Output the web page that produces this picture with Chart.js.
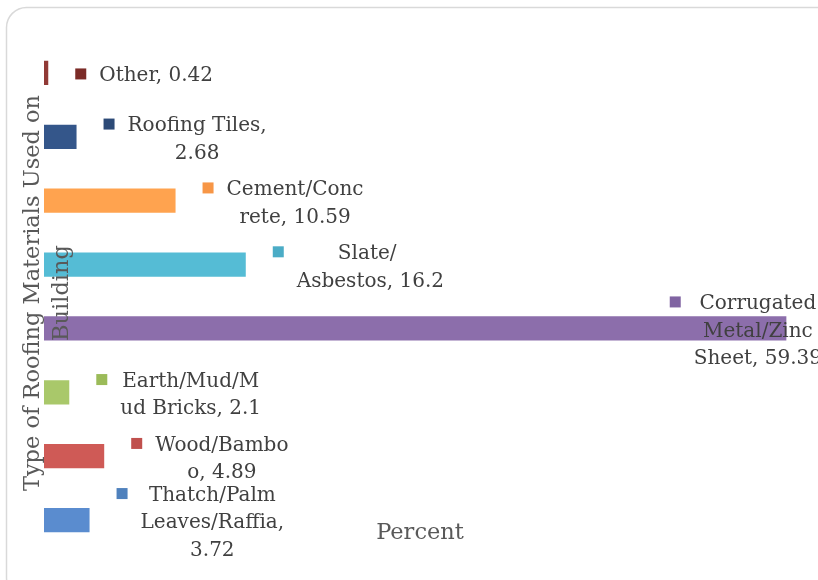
<!DOCTYPE html>
<html>
<head>
<meta charset="utf-8">
<title>Type of Roofing Materials Used on Building</title>
<script src="https://cdn.jsdelivr.net/npm/chart.js@4/dist/chart.umd.min.js"></script>
<style>
  html, body { margin: 0; padding: 0; background: #ffffff; }
  #wrap { width: 818px; height: 580px; }
</style>
</head>
<body>
<div id="wrap"><canvas id="chart" width="818" height="580"></canvas></div>
<script>
// Roofing material shares (percent), listed top to bottom
const categories = [
  'Other',
  'Roofing Tiles',
  'Cement/Concrete',
  'Slate/ Asbestos',
  'Corrugated Metal/Zinc Sheet',
  'Earth/Mud/Mud Bricks',
  'Wood/Bamboo',
  'Thatch/Palm Leaves/Raffia'
];
const values = [0.42, 2.68, 10.59, 16.2, 59.39, 2.1, 4.89, 3.72];

// character offsets where each "name, value" data label wraps
const labelBreaks = [[], [14], [11], [7], [10, 21], [11], [10], [11, 26]];

const barColors    = ['#913a36', '#34568a', '#ffa34f', '#55bcd5', '#8c6eab', '#a9c86a', '#cf5a56', '#5a8ccf'];
const markerColors = ['#7b2b27', '#2c4a77', '#f79646', '#4bacc6', '#8064a2', '#9bbb59', '#c0504d', '#4f81bd'];

const axisTitleY = ['Type of Roofing Materials Used on', 'Building'];
const axisTitleX = 'Percent';

const FONT = '"DejaVu Serif", "Liberation Serif", serif';

function labelLines(i) {
  const text = categories[i] + ', ' + values[i];
  const cuts = [0, ...labelBreaks[i], text.length];
  const lines = [];
  for (let k = 0; k < cuts.length - 1; k++) {
    lines.push(text.slice(cuts[k], cuts[k + 1]).replace(/^\s+/, ''));
  }
  return lines;
}

// white card with a soft rounded outline
const cardPlugin = {
  id: 'card',
  beforeDraw(chart) {
    const ctx = chart.ctx;
    ctx.save();
    ctx.fillStyle = '#ffffff';
    ctx.fillRect(0, 0, chart.width, chart.height);
    ctx.beginPath();
    ctx.roundRect(6.5, 7.5, 830, 590, 20);
    ctx.strokeStyle = '#d9d9d9';
    ctx.lineWidth = 1.5;
    ctx.stroke();
    ctx.restore();
  }
};

// data labels: colour key + wrapped "name, value" text beside each bar
const labelPlugin = {
  id: 'barLabels',
  afterDatasetsDraw(chart) {
    const ctx = chart.ctx;
    const meta = chart.getDatasetMeta(0);
    const lineH = 27.5;
    ctx.save();
    ctx.font = '20px ' + FONT;
    ctx.textBaseline = 'middle';
    ctx.textAlign = 'center';
    meta.data.forEach((bar, i) => {
      const lines = labelLines(i);
      const textW = Math.max(...lines.map(l => ctx.measureText(l).width));
      const boxW = 24 + textW;
      let left = bar.x + 26;
      const maxRight = chart.width + 4;
      if (left + boxW > maxRight) left = maxRight - boxW;
      const top = bar.y - (lines.length * lineH) / 2 + 1;
      // colour key
      ctx.fillStyle = markerColors[i];
      ctx.fillRect(left, top + lineH / 2 - 5.5, 11, 11);
      // text
      ctx.fillStyle = '#404040';
      const cx = left + 24 + textW / 2;
      lines.forEach((l, k) => {
        ctx.fillText(l, cx, top + lineH * k + lineH / 2 + 2);
      });
    });
    ctx.restore();
  }
};

// axis titles drawn over the plot
const titlePlugin = {
  id: 'axisTitles',
  afterDatasetsDraw(chart) {
    const ctx = chart.ctx;
    ctx.save();
    ctx.fillStyle = '#595959';
    ctx.font = '22.5px ' + FONT;
    ctx.textAlign = 'center';
    ctx.textBaseline = 'middle';
    // vertical title
    ctx.save();
    ctx.translate(0, 293);
    ctx.rotate(-Math.PI / 2);
    ctx.fillText(axisTitleY[0], 0, 33);
    ctx.fillText(axisTitleY[1], 0, 62);
    ctx.restore();
    // horizontal title
    ctx.fillText(axisTitleX, 420, 533);
    ctx.restore();
  }
};

new Chart(document.getElementById('chart'), {
  type: 'bar',
  data: {
    labels: categories,
    datasets: [{
      data: values,
      backgroundColor: barColors,
      borderColor: 'rgba(255,255,255,0.35)',
      borderWidth: 1,
      categoryPercentage: 1,
      barPercentage: 0.41
    }]
  },
  options: {
    indexAxis: 'y',
    responsive: false,
    animation: false,
    layout: { padding: { left: 44, right: 23, top: 41, bottom: 28 } },
    plugins: {
      legend: { display: false },
      tooltip: { enabled: false }
    },
    scales: {
      x: { display: false, min: 0, max: 60 },
      y: { display: false }
    }
  },
  plugins: [cardPlugin, labelPlugin, titlePlugin]
});
</script>
</body>
</html>
